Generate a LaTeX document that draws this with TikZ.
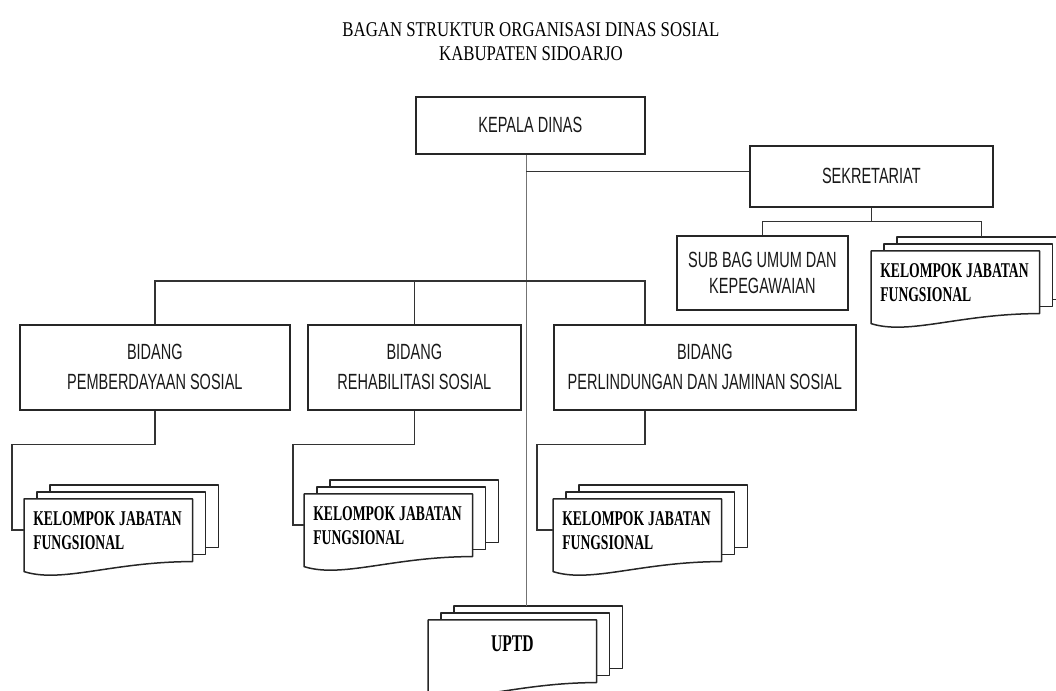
\documentclass[tikz,border=0pt]{standalone}
\usepackage{fontspec}
\newfontfamily\boxfont[FakeStretch=0.66]{Liberation Sans}
\newfontfamily\headfont[FakeStretch=0.80]{Liberation Serif}
\newfontfamily\docfont[FakeStretch=0.65]{Liberation Serif}
\usetikzlibrary{calc}

% stacked documents behind a front node
\newcommand{\multidoc}[1]{%
  \draw[docline] ([xshift=13pt]#1.north west) -- ++(0,7) -- ([shift={(13,7)}]#1.north east)
     -- ([shift={(13,7)}]#1.south east) -- ([yshift=7pt]#1.south east);
  \draw[docline] ([shift={(26,7)}]#1.north west) -- ++(0,7) -- ([shift={(26,14)}]#1.north east)
     -- ([shift={(26,14)}]#1.south east) -- ([shift={(13,14)}]#1.south east);
  \draw[docline] (#1.north west) -- (#1.north east) -- (#1.south east)
     .. controls +(-80,0) and +(38,-12) .. ([yshift=-10pt]#1.south west) -- cycle;
}
\newcommand{\kjftext}{\mbox{KELOMPOK\kern4pt JABATAN}\\FUNGSIONAL}

\begin{document}
\begin{tikzpicture}[x=1pt,y=1pt,semithick]
  \tikzstyle{box}=[rectangle,draw=black!85,line width=1.7pt,anchor=north west,align=center,
                   text=black!90,font={\boxfont\fontsize{22}{30}\selectfont}]
  \tikzstyle{doc}=[rectangle,anchor=north west,minimum width=168pt,minimum height=62pt,
                   text width=150pt,inner xsep=9pt,inner ysep=0pt,align=left,
                   font={\docfont\bfseries\fontsize{21}{24}\selectfont}]
  \tikzstyle{docline}=[draw=black!85,line width=1.5pt,line join=round]
  \tikzstyle{conn}=[draw=black!80,line width=1.6pt]
  \tikzstyle{spine}=[draw=black!55,line width=1.6pt]

  \useasboundingbox (0,0) rectangle (1056,690);
  \clip (0,0) rectangle (1056,690);

  \node[align=center,font={\headfont\fontsize{21}{24}\selectfont}] (title) at (531,648)
       {BAGAN STRUKTUR ORGANISASI DINAS SOSIAL\\KABUPATEN SIDOARJO};

  \node[box,minimum width=229pt,minimum height=57pt] (kadis)  at (415,594) {KEPALA DINAS};
  \node[box,minimum width=243pt,minimum height=61pt] (sekre)  at (749,545) {SEKRETARIAT};
  \node[box,minimum width=171pt,minimum height=74pt,
        font={\boxfont\fontsize{22}{26}\selectfont}]  (subbag) at (676,455) {SUB BAG UMUM DAN\\KEPEGAWAIAN};
  \node[box,minimum width=270pt,minimum height=85pt] (bid1)   at (19,366)  {BIDANG\\PEMBERDAYAAN SOSIAL};
  \node[box,minimum width=213pt,minimum height=85pt] (bid2)   at (307,366) {BIDANG\\REHABILITASI SOSIAL};
  \node[box,minimum width=302pt,minimum height=85pt] (bid3)   at (553,366) {BIDANG\\PERLINDUNGAN DAN JAMINAN SOSIAL};

  \node[doc] (kjfs) at (871,439) {\kjftext};
  \node[doc] (kjf1) at (24,191)  {\kjftext};
  \node[doc] (kjf2) at (304,196) {\kjftext};
  \node[doc] (kjf3) at (553,191) {\kjftext};
  \node[doc,align=center,text depth=16pt,
        font={\docfont\bfseries\fontsize{24}{24}\selectfont}] (uptd) at (428,70) {UPTD};

  \multidoc{kjfs}
  \multidoc{kjf1}
  \multidoc{kjf2}
  \multidoc{kjf3}
  \multidoc{uptd}

  \coordinate (kd)       at ([xshift=-4pt]kadis.south);
  \coordinate (uptdtop)  at ([shift={(26,14)}]uptd.north);
  \coordinate (sekl)     at ([yshift=5pt]sekre.west);
  \coordinate (skbus)    at ([yshift=-14pt]sekre.south);
  \coordinate (kjfstop)  at ([shift={(26,14)}]kjfs.north);
  \coordinate (b3top)    at ([xshift=-60pt]bid3.north);
  \coordinate (b3bot)    at ([xshift=-60pt]bid3.south);

  % kepala dinas
  \draw[spine] (kd) -- (kd |- uptdtop);
  \draw[conn] (kd |- sekl) -- (sekl);
  % sekretariat
  \draw[conn] (sekre.south) -- (skbus);
  \draw[conn] (subbag.north) |- (skbus) -| (kjfstop);
  % bidang
  \draw[conn] (bid1.north) -- ++(0,43) -| (b3top);
  \draw[conn] (bid2.north) -- ++(0,43);
  \draw[conn] (bid1.south) -- ++(0,-34) -| ([xshift=-12pt]kjf1.west) -- (kjf1.west);
  \draw[conn] (bid2.south) -- ++(0,-34) -| ([xshift=-11pt]kjf2.west) -- (kjf2.west);
  \draw[conn] (b3bot)      -- ++(0,-34) -| ([xshift=-16pt]kjf3.west) -- (kjf3.west);

\end{tikzpicture}
\end{document}
